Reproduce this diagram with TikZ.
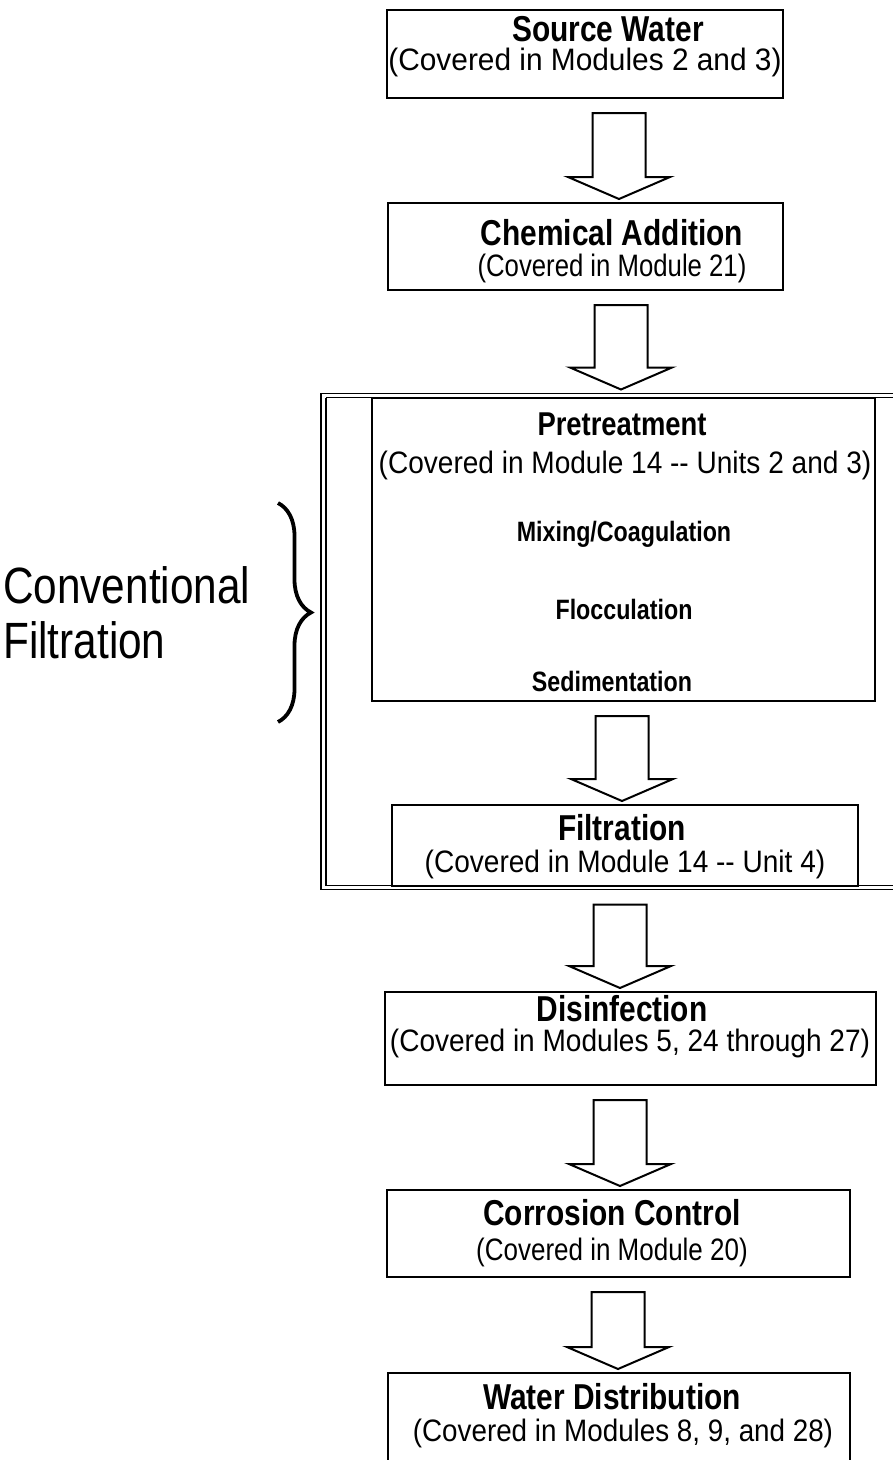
\documentclass[tikz,border=0pt]{standalone}
\usepackage{graphicx}
\usepackage{fontspec}
\setmainfont{Liberation Sans}[FakeStretch=0.83]
\usetikzlibrary{decorations.pathreplacing,calc}
\tikzset{
  box/.style={draw=black, line width=2pt, inner sep=0pt, outer sep=0pt, fill=white},
  frame/.style={draw=black, line width=1.7pt, inner sep=0pt, outer sep=0pt},
  ttl/.style={font=\bfseries\fontsize{36}{40}\selectfont, inner sep=0pt},
  sub/.style={font=\fontsize{31}{35}\selectfont, inner sep=0pt},
  item/.style={font=\bfseries\fontsize{28}{32}\selectfont, inner sep=0pt},
  big/.style={font=\fontsize{51}{56}\selectfont, inner sep=0pt, anchor=west},
  blockarr/.style={draw=black, line width=2pt, fill=white, line join=miter},
  bracestyle/.style={decorate, decoration={brace, amplitude=33pt}, line width=3.8pt},
}
% box from (x1,y1) to (x2,y2) in px, y measured downward
\newcommand\mkbox[6][box]{\node[#1, minimum width=#5pt-#3pt, minimum height=#6pt-#4pt] (#2) at ({(#3+#5)/2},{-(#4+#6)/2}) {};}
% block arrow from node #1 to node #2 at x = #3
\newcommand\blockarrow[3]{%
  \draw[blockarr] let \p1=(#1.south), \p2=(#2.north) in
    (#3pt-26.5pt,\y1-15pt) -- (#3pt+26.5pt,\y1-15pt) -- (#3pt+26.5pt,\y2+26pt)
    -- (#3pt+51pt,\y2+26pt) -- (#3pt,\y2+4pt) -- (#3pt-51pt,\y2+26pt)
    -- (#3pt-26.5pt,\y2+26pt) -- cycle;}
\begin{document}
\begin{tikzpicture}[x=1pt,y=1pt]
\useasboundingbox (0,0) rectangle (893,-1460);
% boxes
\mkbox{src}{387}{10}{783}{98}
\mkbox{chem}{388}{203}{783}{290}
\mkbox[frame]{conv}{321}{393.5}{960}{889.5}
\draw[frame] ($(conv.north west)+(5,-4)$) -- ($(conv.north east)+(0,-4)$)
  ($(conv.south west)+(5,4)$) -- ($(conv.south east)+(0,4)$)
  ($(conv.north west)+(5,-4)$) -- ($(conv.south west)+(5,4)$);
\mkbox{pre}{372}{397.5}{875}{701}
\mkbox{filt}{392}{805}{858}{885.5}
\mkbox{dis}{385}{992}{876}{1085}
\mkbox{corr}{387}{1190}{850}{1277}
\mkbox{wd}{388}{1373}{850}{1480}
% arrows
\blockarrow{src}{chem}{619}
\blockarrow{chem}{conv}{621}
\blockarrow{pre}{filt}{622}
\blockarrow{conv}{dis}{620}
\blockarrow{dis}{corr}{620}
\blockarrow{corr}{wd}{618}
% texts
\node[ttl] (t1) at (608,-29) {Source Water};
\node[sub] (s1) at (585,-62) {\scalebox{1.16}[1]{(Covered in Modules 2 and 3)}};
\node[ttl] (t2) at (612,-233) {Chemical Addition};
\node[sub] (s2) at (612,-268) {(Covered in Module 21)};
\node[ttl, font=\bfseries\fontsize{33}{37}\selectfont] (t3) at (622,-424) {Pretreatment};
\node[sub] (s3) at (625,-465) {\scalebox{1.09}[1]{(Covered in Module 14 -{}- Units 2 and 3)}};
\node[item] (i1) at (624,-534) {Mixing/Coagulation};
\node[item] (i2) at (624,-609) {Flocculation};
\node[item] (i3) at (612,-681) {Sedimentation};
\node[ttl] (t4) at (622,-828) {Filtration};
\node[sub] (s4) at (625,-864) {\scalebox{1.09}[1]{(Covered in Module 14 -{}- Unit 4)}};
\node[ttl] (t5) at (622,-1009) {Disinfection};
\node[sub] (s5) at (630,-1043) {\scalebox{1.09}[1]{(Covered in Modules 5, 24 through 27)}};
\node[ttl] (t6) at (612,-1213) {Corrosion Control};
\node[sub] (s6) at (612,-1252) {\scalebox{1.01}[1]{(Covered in Module 20)}};
\node[ttl] (t7) at (612,-1397) {Water Distribution};
\node[sub] (s7) at (623,-1433) {\scalebox{1.08}[1]{(Covered in Modules 8, 9, and 28)}};
% side label and brace
\node[big] (cf1) at (3,-585) {Conventional};
\node[big] (cf2) at (3,-640) {Filtration};
\coordinate (bt) at (278,-503);
\coordinate (bb) at (278,-722);
\draw[bracestyle] (bt) -- (bb);
\end{tikzpicture}
\end{document}
